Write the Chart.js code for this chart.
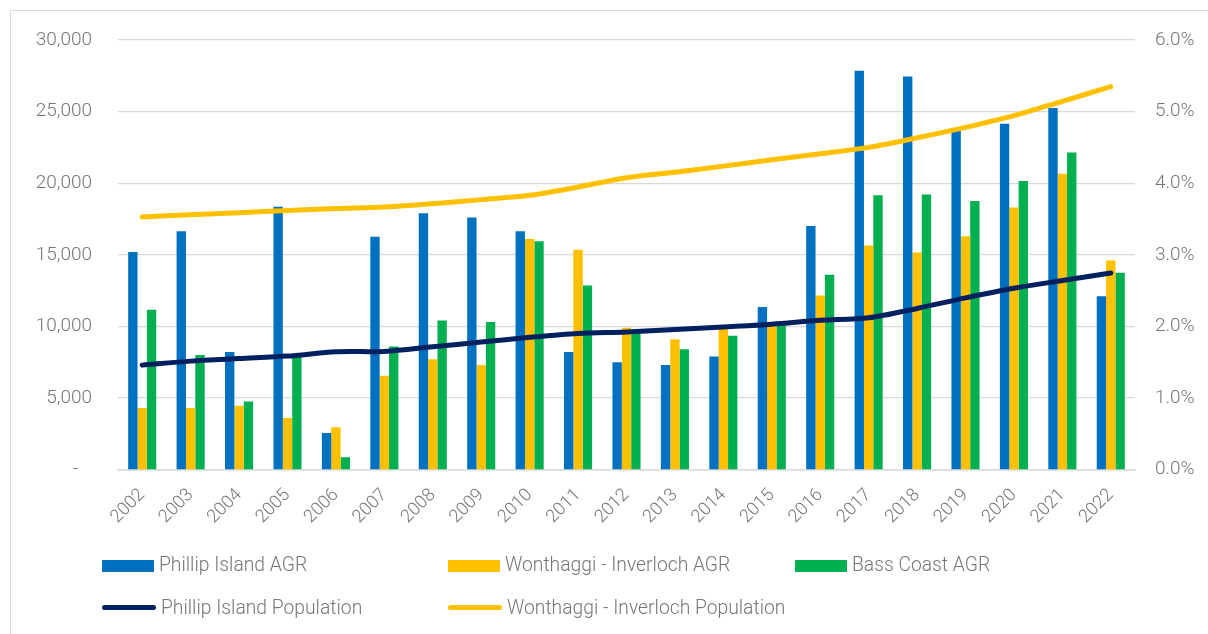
<!DOCTYPE html>
<html>
<head>
<meta charset="utf-8">
<script src="https://cdn.jsdelivr.net/npm/chart.js@4.4.1/dist/chart.umd.min.js"></script>
<style>
  html, body { margin: 0; padding: 0; background: #fff; }
  #wrap { position: relative; width: 1208px; height: 634px; overflow: hidden; }
  #frame { position: absolute; left: 10px; top: 10px; width: 1300px; height: 700px;
           border-left: 1px solid #d9d9d9; border-top: 1px solid #d9d9d9; }
  #chart { position: absolute; left: 0; top: 0; }
  .lg { position: absolute; display: flex; align-items: center; height: 24px;
        font: 300 19.3px Roboto, sans-serif; color: #767676; white-space: nowrap; }
  .lg .sw { flex: none; margin-right: 5px; }
</style>
</head>
<body>
<div id="wrap">
  <div id="frame"></div>
  <canvas id="chart" width="1208" height="634"></canvas>
  <div id="legend"></div>
</div>
<script>
const years = ['2002', '2003', '2004', '2005', '2006', '2007', '2008', '2009', '2010', '2011', '2012',
  '2013', '2014', '2015', '2016', '2017', '2018', '2019', '2020', '2021', '2022'];

// annual growth rate, % (right axis)
const phillipAgr = [3.04, 3.33, 1.64, 3.67, 0.51, 3.25, 3.58, 3.52, 3.33, 1.64, 1.50,
  1.46, 1.58, 2.27, 3.40, 5.57, 5.49, 4.74, 4.83, 5.05, 2.42];
const wonthaggiAgr = [0.86, 0.86, 0.89, 0.72, 0.59, 1.31, 1.54, 1.46, 3.22, 3.07, 1.98,
  1.82, 1.99, 2.02, 2.43, 3.13, 3.03, 3.26, 3.66, 4.13, 2.92];
const bassCoastAgr = [2.23, 1.60, 0.95, 1.57, 0.17, 1.72, 2.08, 2.06, 3.19, 2.57, 1.93,
  1.68, 1.87, 2.02, 2.72, 3.83, 3.84, 3.75, 4.03, 4.43, 2.75];

// population (left axis)
const phillipPop = [7290, 7570, 7750, 7920, 8220, 8250, 8570, 8900, 9230, 9500, 9610,
  9780, 9960, 10150, 10420, 10600, 11250, 11990, 12660, 13200, 13730];
const wonthaggiPop = [17630, 17800, 17940, 18090, 18230, 18340, 18570, 18850, 19150, 19730, 20380,
  20770, 21190, 21630, 22050, 22500, 23170, 23900, 24720, 25720, 26740];

const popTicks = [0, 5000, 10000, 15000, 20000, 25000, 30000];

Chart.defaults.font.family = 'Roboto, sans-serif';
Chart.defaults.font.weight = '300';
Chart.defaults.font.size = 19;
Chart.defaults.color = '#767676';

const chart = new Chart(document.getElementById('chart'), {
  type: 'bar',
  data: {
    labels: years,
    datasets: [
      { label: 'Phillip Island AGR', data: phillipAgr, backgroundColor: '#0070C0', yAxisID: 'y1', order: 2 },
      { label: 'Wonthaggi - Inverloch AGR', data: wonthaggiAgr, backgroundColor: '#FFC000', yAxisID: 'y1', order: 2 },
      { label: 'Bass Coast AGR', data: bassCoastAgr, backgroundColor: '#00B050', yAxisID: 'y1', order: 2 },
      { type: 'line', label: 'Phillip Island Population', data: phillipPop, borderColor: '#002060',
        backgroundColor: '#002060', borderWidth: 5, pointRadius: 0, tension: 0.3,
        borderCapStyle: 'round', yAxisID: 'y', order: 1 },
      { type: 'line', label: 'Wonthaggi - Inverloch Population', data: wonthaggiPop, borderColor: '#FFC000',
        backgroundColor: '#FFC000', borderWidth: 5, pointRadius: 0, tension: 0.3,
        borderCapStyle: 'round', yAxisID: 'y', order: 1 }
    ]
  },
  options: {
    responsive: false,
    animation: false,
    devicePixelRatio: 1,
    layout: { padding: { top: 40, left: 0, right: 0, bottom: 0 } },
    datasets: { bar: { categoryPercentage: 0.58, barPercentage: 1.0 } },
    plugins: { legend: { display: false }, tooltip: { enabled: false } },
    scales: {
      x: {
        grid: { display: false },
        border: { display: true, color: '#d9d9d9', width: 1.5 },
        ticks: { maxRotation: 45, minRotation: 45, padding: 7, font: { size: 18 } },
        afterFit: function(s) { s.height = 164.5; }
      },
      y: {
        position: 'left',
        min: 0, max: 30000,
        afterBuildTicks: function(s) { s.ticks = popTicks.map(function(v) { return { value: v }; }); },
        grid: { color: '#d9d9d9', lineWidth: 1.3, drawTicks: false },
        border: { display: false },
        ticks: {
          padding: 26,
          callback: function(v) { return v === 0 ? '-   ' : v.toLocaleString('en-US'); }
        },
        afterFit: function(s) { s.width = 118; }
      },
      y1: {
        position: 'right',
        min: 0, max: 6,
        grid: { display: false, drawTicks: false },
        border: { display: false },
        ticks: { stepSize: 1, padding: 20, callback: function(v) { return v.toFixed(1) + '%'; } },
        afterFit: function(s) { s.width = 73; }
      }
    }
  }
});

// legend in the same column grid as the original
const legendCols = [102, 448, 795];
const legendRows = [564, 607];
const legend = document.getElementById('legend');
let barIdx = 0, lineIdx = 0;
chart.data.datasets.forEach(function(ds) {
  const isLine = ds.type === 'line';
  const col = isLine ? lineIdx++ : barIdx++;
  const item = document.createElement('div');
  item.className = 'lg';
  item.style.left = legendCols[col] + 'px';
  item.style.top = (legendRows[isLine ? 1 : 0] - 12) + 'px';
  const sw = document.createElement('span');
  sw.className = 'sw';
  if (isLine) {
    sw.style.cssText = 'width:54px;height:5px;border-radius:3px;background:' + ds.borderColor;
  } else {
    sw.style.cssText = 'width:52px;height:12px;margin-top:3px;background:' + ds.backgroundColor;
  }
  const txt = document.createElement('span');
  txt.textContent = ds.label;
  item.appendChild(sw);
  item.appendChild(txt);
  legend.appendChild(item);
});
</script>
</body>
</html>
